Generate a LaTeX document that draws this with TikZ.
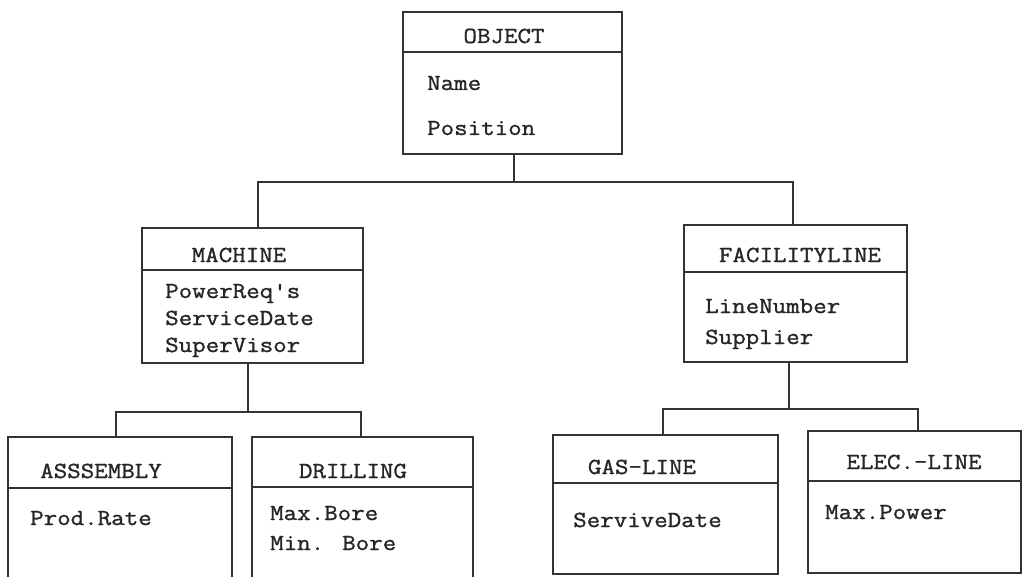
\documentclass[tikz,border=0pt]{standalone}
\usepackage{fontspec}
\newfontfamily\boxfont{Latin Modern Mono}[FakeStretch=1.14,FakeBold=1.2]
\begin{document}
\begin{tikzpicture}[x=1pt,y=-1pt,
  ink/.style={draw=black!80, line width=1.6pt},
  cls/.style={ink, rectangle, inner sep=0pt, outer sep=0pt, anchor=north west},
  txt/.style={font=\boxfont\fontsize{23}{27}\selectfont, text=black!85, inner sep=0pt},
  attr/.style={txt, anchor=base west},
  title/.style={txt, anchor=base},
  link/.style={ink, line cap=rect}
]
\useasboundingbox (0,0) rectangle (1022,577);
\clip (0,0) rectangle (1022,577);

% class boxes
\node[cls, minimum width=219pt, minimum height=142pt] (obj)  at (403,12)  {};
\node[cls, minimum width=221pt, minimum height=135pt] (mach) at (142,228) {};
\node[cls, minimum width=223pt, minimum height=137pt] (fac)  at (684,225) {};
\node[cls, minimum width=224pt, minimum height=200pt] (asm)  at (8,437)   {};
\node[cls, minimum width=221pt, minimum height=200pt] (dri)  at (252,437) {};
\node[cls, minimum width=225pt, minimum height=139pt] (gas)  at (553,435) {};
\node[cls, minimum width=213pt, minimum height=142pt] (elec) at (808,431) {};

% header separators
\draw[ink] (obj.west |- 0,52)   -- (obj.east |- 0,52);
\draw[ink] (mach.west |- 0,270) -- (mach.east |- 0,270);
\draw[ink] (fac.west |- 0,272)  -- (fac.east |- 0,272);
\draw[ink] (asm.west |- 0,488)  -- (asm.east |- 0,488);
\draw[ink] (dri.west |- 0,487)  -- (dri.east |- 0,487);
\draw[ink] (gas.west |- 0,483)  -- (gas.east |- 0,483);
\draw[ink] (elec.west |- 0,481) -- (elec.east |- 0,481);

% class names
\node[title] (objT)  at (504,43)  {OBJECT};
\node[title] (machT) at (239,262) {MACHINE};
\node[title] (facT)  at (800,262) {FACILITYLINE};
\node[title] (asmT)  at (101,478) {ASSSEMBLY};
\node[title] (driT)  at (353,478) {DRILLING};
\node[title] (gasT)  at (642,474) {GAS-LINE};
\node[title] (elecT) at (914,469) {ELEC.-LINE};

% attributes
\node[attr] (objA1)  at (427,90)  {Name};
\node[attr] (objA2)  at (427,135) {Position};
\node[attr] (machA1) at (165,298) {PowerReq's};
\node[attr] (machA2) at (165,325) {ServiceDate};
\node[attr] (machA3) at (165,352) {SuperVisor};
\node[attr] (facA1)  at (705,313) {LineNumber};
\node[attr] (facA2)  at (705,344) {Supplier};
\node[attr] (asmA1)  at (30,525)  {Prod.Rate};
\node[attr] (driA1)  at (270,520) {Max.Bore};
\node[attr] (driA2)  at (270,550) {Min. Bore};
\node[attr] (gasA1)  at (573,527) {ServiveDate};
\node[attr] (elecA1) at (825,519) {Max.Power};

% inheritance tree
\coordinate (bus1) at (514,182);
\coordinate (bus2) at (248,412);
\coordinate (bus3) at (789,409);
\draw[link] ([xshift=1.5pt]obj.south) -- (bus1);
\draw[link] ([xshift=5.5pt]mach.north) |- (bus1) -| ([xshift=-2.5pt]fac.north);
\draw[link] ([xshift=-4.5pt]mach.south) -- (bus2);
\draw[link] ([xshift=-4pt]asm.north) |- (bus2) -| ([xshift=-1.5pt]dri.north);
\draw[link] ([xshift=-6.5pt]fac.south) -- (bus3);
\draw[link] ([xshift=-2.5pt]gas.north) |- (bus3) -| ([xshift=3.5pt]elec.north);
\end{tikzpicture}
\end{document}
